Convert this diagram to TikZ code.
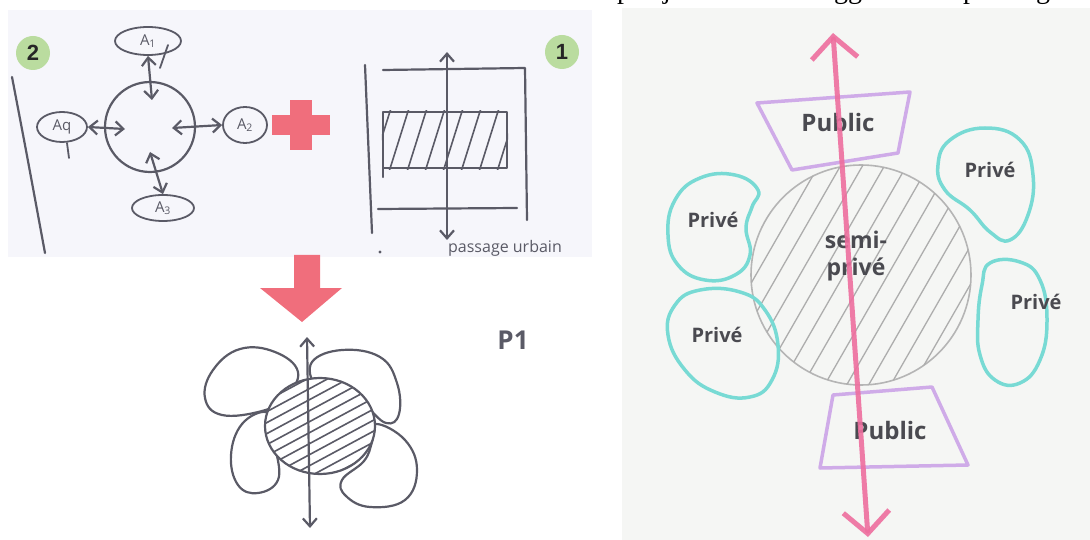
\documentclass[tikz,border=0pt]{standalone}
\usepackage{fontspec}
\setmainfont{Liberation Serif}
\newfontfamily\marker{Open Sans}
\newfontfamily\badgefont{Liberation Sans}
\usetikzlibrary{arrows.meta,shapes.geometric}

\definecolor{ink}{HTML}{5A5A66}
\definecolor{paperA}{HTML}{F6F6FB}
\definecolor{paperB}{HTML}{F5F6F4}
\definecolor{salmon}{HTML}{F06E7C}
\definecolor{badgegreen}{HTML}{BADC9F}
\definecolor{hotpink}{HTML}{EE6E9E}
\definecolor{tealline}{HTML}{78DAD4}
\definecolor{lilac}{HTML}{CFABE8}
\definecolor{hatchgrey}{HTML}{ADADAD}
\definecolor{textgrey}{HTML}{4A4A50}

\begin{document}
\begin{tikzpicture}[x=1pt,y=-1pt,line cap=round,line join=round,
  pen/.style={draw=ink,line width=2.2pt},
  dbl/.style={{Straight Barb[length=8pt,width=14pt]}-{Straight Barb[length=8pt,width=14pt]}},
  annex/.style={ellipse,pen,line width=1.8pt,inner sep=0pt},
  annexlabel/.style={font=\marker\fontsize{15}{15}\selectfont,text=ink},
  badge/.style={circle,fill=badgegreen,minimum size=34pt,inner sep=0pt,
    font=\badgefont\bfseries\fontsize{22}{22}\selectfont,text=black!85},
  prive/.style={draw=tealline,line width=3.5pt},
  public/.style={draw=lilac,line width=3.5pt},
  handtext/.style={font=\marker\bfseries\fontsize{20}{22}\selectfont,text=textgrey},
  hatchline/.style={draw=ink,line width=1.6pt}
]
\useasboundingbox (0,0) rectangle (1090,540);

% photo backgrounds
\fill[paperA] (8,10) rectangle (592,257);
\fill[paperB] (622,8) rectangle (1090,540);

% cropped line of caption text above the right photo
\begin{scope}
  \clip (600,0) rectangle (1090,8);
  \foreach \gx/\gl in {624/p,667/j,848/gg,970/p,1043/g}
    \node[anchor=base,inner sep=0pt,font=\fontsize{28}{28}\selectfont] at (\gx,-1) {\gl};
\end{scope}

% ---------- sketch 2 : hub with four annexes ----------
\node[badge] (b2) at (33,53) {2};
\draw[pen] (12,77) .. controls (26,150) .. (45,253);

\node[circle,pen,minimum size=90pt,inner sep=0pt] (hub) at (150,127) {};
\node[annex,minimum width=66pt,minimum height=28pt] (a1) at (148,41) {};
\node[annexlabel] at (a1) {A\textsubscript{1}};
\node[annex,minimum width=50pt,minimum height=30pt] (a4) at (62,127) {};
\node[annexlabel] at (a4) {Aq};
\node[annex,minimum width=44pt,minimum height=36pt] (a2) at (245,125) {};
\node[annexlabel] at (a2) {A\textsubscript{2}};
\node[annex,minimum width=62pt,minimum height=26pt] (a3) at (163,208) {};
\node[annexlabel] at (a3) {A\textsubscript{3}};

\coordinate (h1) at (152,100);
\coordinate (h4) at (125,129);
\coordinate (h2) at (172,128);
\coordinate (h3) at (150,152);
\draw[pen,dbl] (a1.south) -- (h1);
\draw[pen,dbl] (a4.east) -- (h4);
\draw[pen,dbl] (h2) -- (a2.west);
\draw[pen,dbl] (h3) -- (a3.north);
\draw[pen,line width=1.8pt] (168,45) -- (160,68);
\draw[pen,line width=1.8pt] (67,143) -- (69,158);

% plus sign
\fill[salmon] (272,115) rectangle (330,135);
\fill[salmon] (290,100) rectangle (312,150);

% ---------- sketch 1 : block on an urban passage ----------
\node[badge] (b1) at (562,52) {1};
\draw[pen] (365,65) -- (372,233);
\draw[pen] (383,70) -- (525,68) -- (527,220);
\draw[pen] (378,209) -- (517,208);
\node[pen,minimum width=124pt,minimum height=56pt,inner sep=0pt] (slab) at (445,140) {};
\begin{scope}
  \clip (slab.south west) rectangle (slab.north east);
  \foreach \k in {0,...,9}
    \draw[hatchline] ({352+\k*18},175) -- ({374+\k*18},105);
\end{scope}
\draw[pen] (383,113) -- (383,177);
\coordinate (pasN) at (447,52);
\coordinate (pasS) at (447,240);
\draw[pen,dbl] (pasS) -- (pasN);
\fill[ink] (380,252) circle (1.6pt);
\node[font=\marker\fontsize{16}{16}\selectfont,text=ink] (street) at (505,248) {passage urbain};

% ---------- combination arrow ----------
\fill[salmon] (294,255) -- (320,255) -- (320,288) -- (342,288) -- (302,322)
  -- (260,288) -- (294,288) -- cycle;

% ---------- combined sketch ----------
\draw[pen] plot[smooth cycle,tension=0.7] coordinates
  {(298,372) (275,352) (240,349) (213,370) (205,398) (222,415) (262,411) (285,398)};
\draw[pen] plot[smooth cycle,tension=0.7] coordinates
  {(312,362) (342,350) (380,357) (397,383) (399,414) (386,423) (364,405) (338,390) (316,386)};
\draw[pen] plot[smooth cycle,tension=0.7] coordinates
  {(266,412) (242,424) (231,455) (238,485) (258,493) (278,480) (276,450) (271,430)};
\draw[pen] plot[smooth cycle,tension=0.7] coordinates
  {(376,424) (405,440) (417,470) (405,500) (370,507) (346,496) (342,480) (364,461) (372,442)};
\fill[white] (320,426) ellipse [x radius=55pt,y radius=48pt];
\begin{scope}
  \clip (320,426) ellipse [x radius=55pt,y radius=48pt];
  \foreach \k in {0,...,15}
    \draw[hatchline] (255,{396+\k*11}) -- (385,{326+\k*11});
\end{scope}
\node[ellipse,pen,minimum width=110pt,minimum height=96pt,inner sep=0pt] (core) at (320,426) {};
\coordinate (flN) at (307,337);
\coordinate (flS) at (310,528);
\draw[pen,dbl] (flS) -- (flN);

\node[font=\marker\bfseries\fontsize{26}{26}\selectfont,text=ink] (p1) at (513,340) {P1};

% ---------- final plan ----------
\node[circle,draw=hatchgrey!90,line width=1.6pt,minimum size=220pt,inner sep=0pt] (semi) at (861,275) {};
\begin{scope}
  \clip (861,275) circle (110pt);
  \foreach \k in {0,...,17}
    \draw[hatchgrey,line width=1.3pt] ({640+\k*22},400) -- ({775+\k*22},165);
\end{scope}
\node[handtext,align=center,font=\marker\bfseries\fontsize{23}{27}\selectfont] (semitxt) at (856,256) {semi-\\privé};

% public spaces
\draw[public] (757,103) -- (910,92) -- (898,153) -- (792,170) -- cycle;
\node[handtext,font=\marker\bfseries\fontsize{24}{24}\selectfont] (pubN) at (838,123) {Public};
\draw[public] (833,395) -- (932,387) -- (968,465) -- (820,468) -- cycle;
\node[handtext,font=\marker\bfseries\fontsize{24}{24}\selectfont] (pubS) at (890,430) {Public};

% private spaces
\draw[prive] plot[smooth cycle,tension=0.75] coordinates
  {(950,140) (985,128) (1020,140) (1033,175) (1028,215) (1010,240) (990,232) (970,210) (945,190) (938,165)};
\node[handtext] (prNE) at (990,170) {Privé};
\draw[prive] plot[smooth cycle,tension=0.75] coordinates
  {(758,190) (735,175) (700,178) (675,200) (668,235) (678,265) (705,280) (735,275) (750,255) (746,228) (752,207)};
\node[handtext] (prNW) at (713,220) {Privé};
\draw[prive] plot[smooth cycle,tension=0.75] coordinates
  {(700,290) (740,292) (765,310) (778,345) (772,380) (750,397) (715,392) (685,370) (668,335) (675,305)};
\node[handtext] (prSW) at (717,335) {Privé};
\draw[prive] plot[smooth cycle,tension=0.75] coordinates
  {(990,263) (1020,262) (1040,280) (1047,320) (1040,360) (1020,383) (995,380) (980,355) (978,320) (982,285)};
\node[handtext] (prE) at (1036,302) {Privé};

% public passage crossing the plan
\coordinate (axN) at (833,33);
\coordinate (axS) at (868,537);
\draw[hotpink,line width=5pt,opacity=0.9,
  {Straight Barb[length=22pt,width=46pt]}-{Straight Barb[length=22pt,width=46pt]}]
  (axS) -- (axN);
\end{tikzpicture}
\end{document}
